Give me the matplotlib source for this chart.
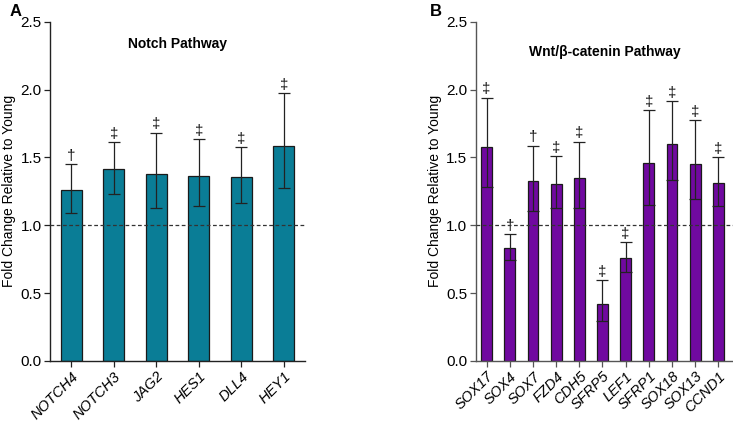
import numpy as np
import matplotlib
matplotlib.use("Agg")
import matplotlib.pyplot as plt

plt.rcParams['font.family'] = ['Liberation Sans', 'DejaVu Sans']

# Panel A - Notch pathway
notch_genes = ["NOTCH4", "NOTCH3", "JAG2", "HES1", "DLL4", "HEY1"]
notch_mean = [1.258, 1.413, 1.376, 1.363, 1.354, 1.587]
notch_low = [1.093, 1.233, 1.125, 1.142, 1.162, 1.277]
notch_high = [1.449, 1.614, 1.683, 1.634, 1.577, 1.973]
notch_sig = ["†", "‡", "‡", "‡", "‡", "‡"]

# Panel B - Wnt/beta-catenin pathway
wnt_genes = ["SOX17", "SOX4", "SOX7", "FZD4", "CDH5", "SFRP5", "LEF1",
             "SFRP1", "SOX18", "SOX13", "CCND1"]
wnt_mean = [1.579, 0.835, 1.326, 1.304, 1.351, 0.418, 0.757,
            1.457, 1.599, 1.452, 1.309]
wnt_low = [1.285, 0.744, 1.108, 1.125, 1.125, 0.295, 0.656,
           1.147, 1.334, 1.194, 1.142]
wnt_high = [1.940, 0.936, 1.587, 1.511, 1.616, 0.597, 0.875,
            1.847, 1.916, 1.774, 1.501]
wnt_sig = ["‡", "†", "†", "‡", "‡", "‡", "‡", "‡", "‡", "‡", "‡"]

TEAL = "#0a7d96"
PURPLE = "#7009a0"

W, H = 733, 422
fig = plt.figure(figsize=(W / 100, H / 100), dpi=100)


def panel(rect, genes, mean, low, high, sig, color, title, title_y, xlim, width, spine_col):
    ax = fig.add_axes(rect)
    x = np.arange(len(genes))
    mean = np.array(mean)
    yerr = np.vstack([mean - np.array(low), np.array(high) - mean])
    ax.bar(x, mean, width=width, color=color, edgecolor="#1a1a1a",
           linewidth=0.9, zorder=2)
    ax.errorbar(x, mean, yerr=yerr, fmt="none", ecolor="#222222",
                elinewidth=0.9, capsize=4, capthick=0.9, zorder=3)
    for xi, hi, s in zip(x, high, sig):
        ax.annotate(s, (xi, hi), xytext=(0, 1), textcoords="offset points",
                    ha="center", va="bottom", fontsize=11, color="#111111")
    ax.axhline(1.0, color="#333333", linestyle=(0, (3, 2)), linewidth=0.9, zorder=4)
    ax.set_xlim(*xlim)
    ax.set_ylim(0, 2.5)
    ax.set_yticks(np.arange(0, 2.51, 0.5))
    ax.set_yticklabels([f"{v:.1f}" for v in np.arange(0, 2.51, 0.5)], fontsize=11)
    ax.set_xticks(x)
    ax.set_xticklabels(genes, rotation=45, ha="right", rotation_mode="anchor",
                       fontsize=10.5, style="italic")
    ax.set_ylabel("Fold Change Relative to Young", fontsize=10, labelpad=3)
    ax.text(np.mean(xlim), title_y, title, fontsize=10, fontweight="bold",
            ha="center", va="center")
    for sp in ["top", "right"]:
        ax.spines[sp].set_visible(False)
    for sp in ["left", "bottom"]:
        ax.spines[sp].set_color(spine_col)
        ax.spines[sp].set_linewidth(1.0)
    ax.tick_params(axis="both", length=4, width=0.9, color=spine_col, pad=2)
    return ax


bottom = 1 - 361 / H
top = 1 - 21.7 / H
axA = panel([50 / W, bottom, (305 - 50) / W, top - bottom], notch_genes, notch_mean,
            notch_low, notch_high, notch_sig, TEAL, "Notch Pathway", 2.335,
            (-0.5, 5.5), 0.5, "#222222")
axB = panel([475.7 / W, bottom, (733 - 475.7) / W, top - bottom], wnt_genes, wnt_mean,
            wnt_low, wnt_high, wnt_sig, PURPLE, "Wnt/β-catenin Pathway", 2.28,
            (-0.47, 10.63), 0.47, "#555555")

fig.text(10 / W, 1 - 12 / H, "A", fontsize=12, fontweight="bold", va="center")
fig.text(430 / W, 1 - 12 / H, "B", fontsize=12, fontweight="bold", va="center")

fig.savefig("out.png", dpi=100)
